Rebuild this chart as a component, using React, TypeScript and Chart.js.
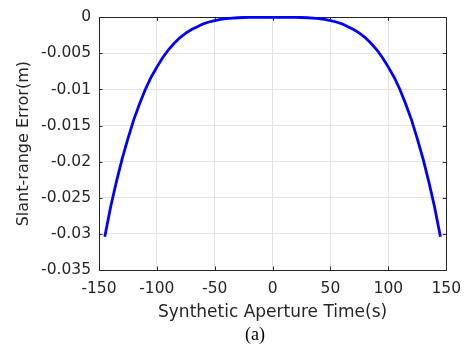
import React, { useEffect, useRef } from 'react';
import { Chart, registerables } from 'chart.js';

Chart.register(...registerables);

const timeSeconds = [
  -145, -140, -135, -130, -125, -120, -115, -110, -105, -100, -95, -90, -85, -80, -75,
  -70, -65, -60, -55, -50, -45, -40, -35, -30, -25, -20, -15, -10, -5, 0,
  5, 10, 15, 20, 25, 30, 35, 40, 45, 50, 55, 60, 65, 70, 75,
  80, 85, 90, 95, 100, 105, 110, 115, 120, 125, 130, 135, 140, 145,
];

const slantRangeError = [
  -0.0304, -0.0263, -0.0228, -0.0196, -0.0168, -0.0142, -0.012, -0.01, -0.0083, -0.0069, -0.0056, -0.0045, -0.0036, -0.0028, -0.0022,
  -0.0017, -0.0013, -0.0009, -0.00065, -0.00045, -0.0003, -0.00018, -0.00011, -0.00006, -0.00003, -0.00001, -0.000005, -0.000001, 0, 0,
  0, -0.000001, -0.000005, -0.00001, -0.00003, -0.00006, -0.00011, -0.00018, -0.0003, -0.00045, -0.00065, -0.0009, -0.0013, -0.0017, -0.0022,
  -0.0028, -0.0036, -0.0045, -0.0056, -0.0069, -0.0083, -0.01, -0.012, -0.0142, -0.0168, -0.0196, -0.0228, -0.0263, -0.0304,
];

const xTickValues = [-150, -100, -50, 0, 50, 100, 150];
const yTickValues = [-0.035, -0.03, -0.025, -0.02, -0.015, -0.01, -0.005, 0];

const xTitle = 'Synthetic Aperture Time(s)';
const yTitle = 'Slant-range Error(m)';
const caption = '(a)';

const AXIS_COLOR = '#262626';
const GRID_COLOR = '#e3e3e3';
const FONT = 'DejaVu Sans';

const boxPlugin = {
  id: 'matlabBox',
  beforeDatasetsDraw(chart: any) {
    const { ctx, chartArea } = chart;
    const { left, right, top, bottom } = chartArea;
    const xs = chart.scales.x;
    const ys = chart.scales.y;
    const len = 3.5;
    ctx.save();
    ctx.strokeStyle = AXIS_COLOR;
    ctx.lineWidth = 1;
    ctx.beginPath();
    xTickValues.forEach((v) => {
      const px = Math.round(xs.getPixelForValue(v)) + 0.5;
      ctx.moveTo(px, bottom);
      ctx.lineTo(px, bottom - len);
      ctx.moveTo(px, top);
      ctx.lineTo(px, top + len);
    });
    yTickValues.forEach((v) => {
      const py = Math.round(ys.getPixelForValue(v)) + 0.5;
      ctx.moveTo(left, py);
      ctx.lineTo(left + len, py);
      ctx.moveTo(right, py);
      ctx.lineTo(right - len, py);
    });
    ctx.stroke();
    ctx.strokeRect(Math.round(left) + 0.5, Math.round(top) + 0.5, Math.round(right - left), Math.round(bottom - top));
    ctx.restore();
  },
};

export default function App() {
  const canvasRef = useRef<HTMLCanvasElement | null>(null);

  useEffect(() => {
    const canvas = canvasRef.current;
    if (!canvas) return;
    const points = timeSeconds.map((t, i) => ({ x: t, y: slantRangeError[i] }));
    const chart = new Chart(canvas, {
      type: 'line',
      data: {
        datasets: [
          {
            data: points,
            borderColor: '#0000ff',
            backgroundColor: '#0000ff',
            borderWidth: 2.8,
            pointRadius: 0,
            tension: 0,
            fill: false,
            clip: false as any,
          },
        ],
      },
      options: {
        responsive: false,
        animation: false,
        events: [],
        layout: { padding: { left: 0, top: 13, right: 20, bottom: 0 } },
        plugins: {
          legend: { display: false },
          tooltip: { enabled: false },
        },
        scales: {
          x: {
            type: 'linear',
            min: -150,
            max: 150,
            afterBuildTicks: (axis: any) => {
              axis.ticks = xTickValues.map((v) => ({ value: v }));
            },
            afterFit: (scale: any) => {
              scale.height = 81;
            },
            grid: { color: GRID_COLOR, drawTicks: false, lineWidth: 1 },
            border: { display: true, color: AXIS_COLOR, width: 1 },
            ticks: {
              color: AXIS_COLOR,
              font: { family: FONT, size: 15.5 },
              padding: 10,
              maxRotation: 0,
              autoSkip: false,
              callback: (v: any) => String(v),
            },
            title: {
              display: true,
              text: xTitle,
              color: AXIS_COLOR,
              font: { family: FONT, size: 17 },
              padding: { top: 0, bottom: 28 },
            },
          },
          y: {
            type: 'linear',
            min: -0.035,
            max: 0,
            afterBuildTicks: (axis: any) => {
              axis.ticks = yTickValues.map((v) => ({ value: v }));
            },
            afterFit: (scale: any) => {
              scale.width = 99;
            },
            grid: { color: GRID_COLOR, drawTicks: false, lineWidth: 1 },
            border: { display: true, color: AXIS_COLOR, width: 1 },
            ticks: {
              color: AXIS_COLOR,
              font: { family: FONT, size: 15.5 },
              padding: 8,
              autoSkip: false,
              callback: (v: any) => String(Number(Number(v).toFixed(3))),
            },
            title: {
              display: true,
              text: yTitle,
              color: AXIS_COLOR,
              font: { family: FONT, size: 16 },
              padding: { top: 14, bottom: 0 },
            },
          },
        },
      },
      plugins: [boxPlugin],
    });
    return () => chart.destroy();
  }, []);

  return (
    <div style={{ position: 'fixed', left: 0, top: 0, width: 471, height: 351, background: '#fff' }}>
      <canvas ref={canvasRef} width={471} height={351} style={{ display: 'block', width: 471, height: 351 }} />
      <div
        style={{
          position: 'absolute',
          left: 225,
          top: 324,
          width: 60,
          textAlign: 'center',
          fontFamily: '"Liberation Serif", "Times New Roman", serif',
          fontSize: 18,
          lineHeight: '20px',
          color: '#000',
        }}
      >
        {caption}
      </div>
    </div>
  );
}
